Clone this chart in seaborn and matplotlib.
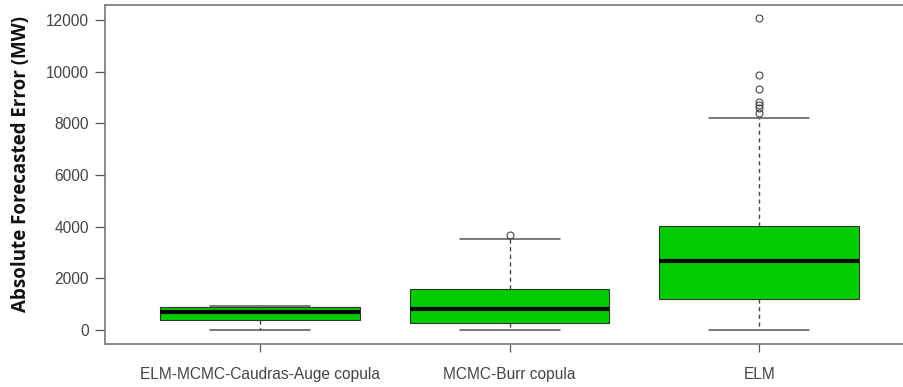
import numpy as np
import pandas as pd
import matplotlib
matplotlib.use("Agg")
import matplotlib.pyplot as plt
import seaborn as sns

# Summary statistics of the absolute forecasted error (MW) for each model
categories = ["ELM-MCMC-Caudras-Auge copula", "MCMC-Burr copula", "ELM"]
lower_whisker = [0, 0, 0]
q1 = [400, 260, 1190]
median = [680, 800, 2680]
q3 = [880, 1575, 4025]
upper_whisker = [940, 3510, 8195]
outliers = [
    [],
    [3677],
    [8413, 8581, 8710, 8837, 9317, 9870, 12070],
]
y_ticks = [0, 2000, 4000, 6000, 8000, 10000, 12000]


def sample_from_summary(lo, a, m, b, hi, extra):
    # Each quartile block holds k values so that linear-interpolated
    # percentiles land exactly on q1 / median / q3.
    k = len(extra) + 1
    return [lo] + [a] * k + [m] * k + [b] * k + [hi] + list(extra)


rows = []
for i, cat in enumerate(categories):
    vals = sample_from_summary(lower_whisker[i], q1[i], median[i], q3[i],
                               upper_whisker[i], outliers[i])
    rows += [(cat, v) for v in vals]
df = pd.DataFrame(rows, columns=["model", "error"])

sns.set_theme(style="white")
plt.rcParams["font.family"] = ["Liberation Sans", "DejaVu Sans"]

fig = plt.figure(figsize=(9.04, 3.87), dpi=100)
ax = fig.add_axes([0.1167, 0.1124, 0.8942, 0.8747])

sns.boxplot(
    data=df, x="model", y="error", order=categories, ax=ax,
    color="#00CC00", saturation=1, width=0.8, whis=1.5,
    linecolor="#333333", linewidth=0.8,
    boxprops=dict(edgecolor="#333333", linewidth=0.8),
    medianprops=dict(color="black", linewidth=3.0, solid_capstyle="butt"),
    whiskerprops=dict(color="#444444", linewidth=1.0, linestyle=(0, (3, 2.5))),
    capprops=dict(color="#555555", linewidth=1.1),
    flierprops=dict(marker="o", markersize=5, markerfacecolor="none",
                    markeredgecolor="#444444", markeredgewidth=0.8),
)

ax.set_xlim(-0.62, 2.62)
ax.set_ylim(-520, 12580)
ax.set_yticks(y_ticks)
ax.set_yticklabels([str(t) for t in y_ticks])

for side in ["left", "bottom", "top"]:
    ax.spines[side].set_visible(True)
    ax.spines[side].set_color("#777777")
    ax.spines[side].set_linewidth(1.2)
ax.spines["right"].set_visible(False)

ax.tick_params(axis="both", which="both", direction="out", length=7,
               width=0.9, color="#555555", labelcolor="#444444",
               labelsize=11.2, pad=5)
ax.tick_params(axis="x", length=6, pad=11)
ax.tick_params(axis="y", left=True)
ax.tick_params(axis="x", bottom=True)

ax.set_xlabel("")
ax.set_ylabel("Absolute Forecasted Error (MW)", fontsize=13.5,
              fontweight="bold", family=["Open Sans", "DejaVu Sans"],
              color="#111111")
ax.yaxis.set_label_coords(-0.092, 0.53)

fig.savefig("out.png", dpi=100)
